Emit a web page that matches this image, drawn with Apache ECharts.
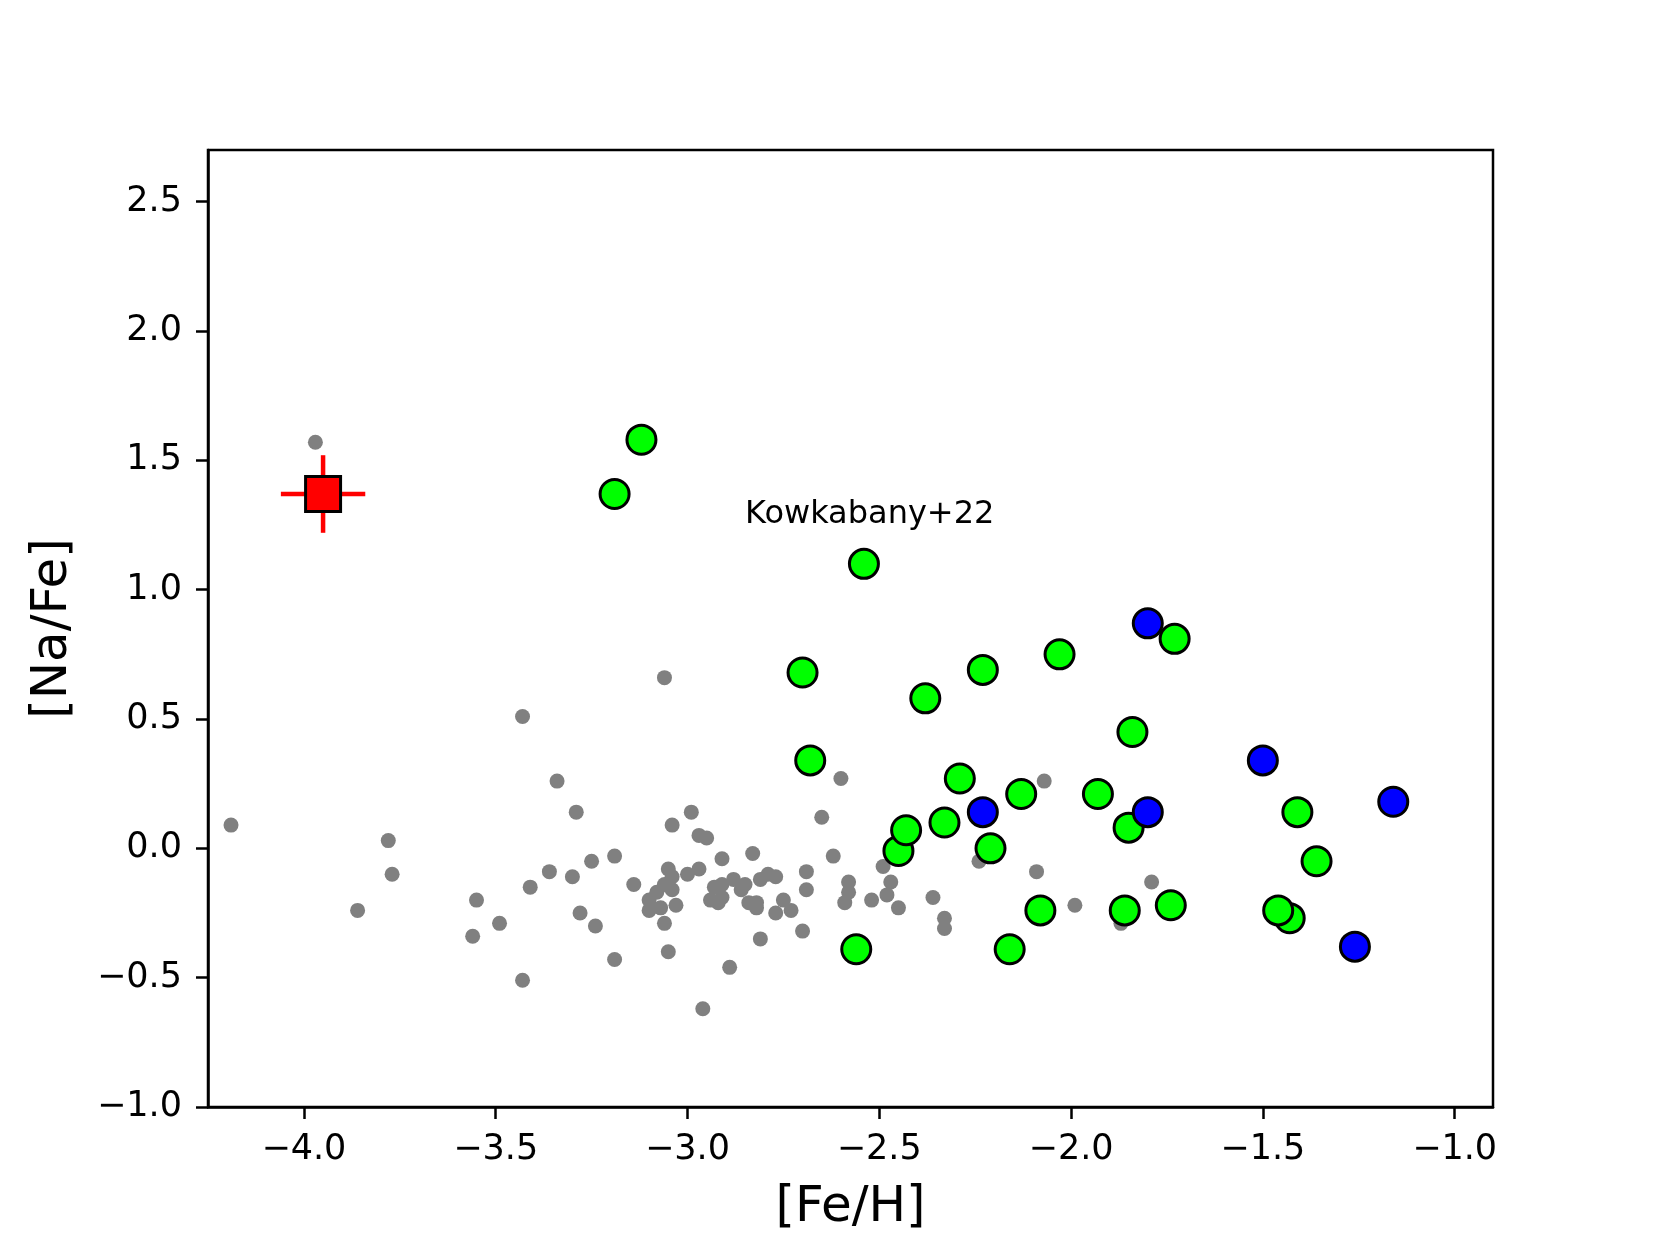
<!DOCTYPE html>
<html>
<head>
<meta charset="utf-8">
<script src="https://cdn.jsdelivr.net/npm/echarts@6/dist/echarts.min.js"></script>
<style>
  * { margin: 0; padding: 0; }
  body { background: #fff; }
</style>
</head>
<body>
<div id="main" style="width: 1660px; height: 1245px;"></div>
<script>
  // literature sample (grey dots)
  var litFeH = [-4.19, -3.97, -3.86, -3.78, -3.77, -3.56, -3.55, -3.49, -3.43, -3.43,
    -3.41, -3.36, -3.34, -3.30, -3.29, -3.28, -3.25, -3.24, -3.19, -3.19,
    -3.14, -3.10, -3.10, -3.08, -3.07, -3.06, -3.06, -3.06, -3.05, -3.05,
    -3.04, -3.04, -3.04, -3.03, -3.00, -2.99, -2.97, -2.97, -2.96, -2.95,
    -2.94, -2.93, -2.92, -2.91, -2.91, -2.91, -2.89, -2.88, -2.86, -2.85,
    -2.84, -2.83, -2.82, -2.82, -2.81, -2.81, -2.79, -2.77, -2.77, -2.75,
    -2.73, -2.70, -2.69, -2.69, -2.65, -2.62, -2.60, -2.59, -2.58, -2.58,
    -2.52, -2.49, -2.48, -2.47, -2.45, -2.36, -2.33, -2.33, -2.24, -2.09,
    -2.07, -1.99, -1.87, -1.79]
  var litNaFe = [0.09, 1.57, -0.24, 0.03, -0.10, -0.34, -0.20, -0.29, 0.51, -0.51,
    -0.15, -0.09, 0.26, -0.11, 0.14, -0.25, -0.05, -0.30, -0.03, -0.43,
    -0.14, -0.20, -0.24, -0.17, -0.23, 0.66, -0.14, -0.29, -0.08, -0.40,
    0.09, -0.11, -0.16, -0.22, -0.10, 0.14, 0.05, -0.08, -0.62, 0.04,
    -0.20, -0.15, -0.21, -0.04, -0.14, -0.19, -0.46, -0.12, -0.16, -0.14,
    -0.21, -0.02, -0.21, -0.23, -0.12, -0.35, -0.10, -0.11, -0.25, -0.20,
    -0.24, -0.32, -0.09, -0.16, 0.12, -0.03, 0.27, -0.21, -0.13, -0.17,
    -0.20, -0.07, -0.18, -0.13, -0.23, -0.19, -0.27, -0.31, -0.05, -0.09,
    0.26, -0.22, -0.29, -0.13]

  // Kowkabany+22 (green)
  var kowFeH = [-3.19, -3.12, -2.54, -2.70, -2.68, -2.56, -2.45, -2.43, -2.38, -2.33,
    -2.29, -2.23, -2.21, -2.16, -2.13, -2.08, -2.03, -1.93, -1.86, -1.85,
    -1.84, -1.74, -1.73, -1.43, -1.46, -1.41, -1.36]
  var kowNaFe = [1.37, 1.58, 1.10, 0.68, 0.34, -0.39, -0.01, 0.07, 0.58, 0.10,
    0.27, 0.69, 0.00, -0.39, 0.21, -0.24, 0.75, 0.21, -0.24, 0.08,
    0.45, -0.22, 0.81, -0.27, -0.24, 0.14, -0.05]

  // blue points
  var blueFeH = [-2.23, -1.80, -1.80, -1.50, -1.16, -1.26]
  var blueNaFe = [0.14, 0.87, 0.14, 0.34, 0.18, -0.38]

  // our star (red square with error bars)
  var starFeH = [-3.95]
  var starNaFe = [1.37]
  var starErrX = [0.11]
  var starErrY = [0.15]

  var xTicks = [-4.0, -3.5, -3.0, -2.5, -2.0, -1.5, -1.0]
  var yTicks = [-1.0, -0.5, 0.0, 0.5, 1.0, 1.5, 2.0, 2.5]
  var noteText = 'Kowkabany+22'
  var notePos = [-2.85, 1.29]

  function pairs(xs, ys) {
    return xs.map(function (x, i) { return [x, ys[i]] })
  }
  function fmt(v) {
    return v.toFixed(1).replace('-', '\u2212')
  }

  var font = 'DejaVu Sans'
  var chart = echarts.init(document.getElementById('main'))
  chart.setOption({
    animation: false,
    backgroundColor: '#fff',
    textStyle: { fontFamily: font },
    grid: {
      left: 208, right: 167, top: 150, bottom: 138,
      show: true, borderColor: '#000', borderWidth: 2.5, backgroundColor: 'transparent'
    },
    xAxis: {
      type: 'value', min: -4.25, max: -0.9,
      name: '[Fe/H]', nameLocation: 'middle', nameGap: 76,
      nameTextStyle: { fontSize: 50, color: '#000', fontFamily: font },
      splitLine: { show: false },
      axisLine: { show: true, onZero: false, lineStyle: { color: '#000', width: 2.5 } },
      axisTick: { show: true, customValues: xTicks, length: 12, lineStyle: { color: '#000', width: 2.5 } },
      axisLabel: { customValues: xTicks, formatter: fmt, fontSize: 35, color: '#000', margin: 25, fontFamily: font }
    },
    yAxis: {
      type: 'value', min: -1.0, max: 2.7,
      name: '[Na/Fe]', nameLocation: 'middle', nameGap: 130,
      nameTextStyle: { fontSize: 50, color: '#000', fontFamily: font },
      splitLine: { show: false },
      axisLine: { show: true, onZero: false, lineStyle: { color: '#000', width: 2.5 } },
      axisTick: { show: true, customValues: yTicks, length: 12, lineStyle: { color: '#000', width: 2.5 } },
      axisLabel: { customValues: yTicks, formatter: fmt, fontSize: 35, color: '#000', margin: 26, fontFamily: font }
    },
    series: [
      {
        type: 'scatter', z: 2,
        symbol: 'circle', symbolSize: 15,
        itemStyle: { color: '#808080', opacity: 1 },
        data: pairs(litFeH, litNaFe)
      },
      {
        type: 'custom', z: 3,
        data: starFeH.map(function (x, i) { return [x, starNaFe[i], starErrX[i], starErrY[i]] }),
        renderItem: function (params, api) {
          var x = api.value(0), y = api.value(1), ex = api.value(2), ey = api.value(3)
          var l = api.coord([x - ex, y]), r = api.coord([x + ex, y])
          var t = api.coord([x, y + ey]), b = api.coord([x, y - ey])
          var st = { stroke: '#ff0000', lineWidth: 4.5 }
          return {
            type: 'group',
            children: [
              { type: 'line', shape: { x1: l[0], y1: l[1], x2: r[0], y2: r[1] }, style: st },
              { type: 'line', shape: { x1: t[0], y1: t[1], x2: b[0], y2: b[1] }, style: st }
            ]
          }
        }
      },
      {
        type: 'scatter', z: 4,
        symbol: 'rect', symbolSize: 35,
        itemStyle: { color: '#ff0000', borderColor: '#000', borderWidth: 3, opacity: 1 },
        data: pairs(starFeH, starNaFe)
      },
      {
        type: 'scatter', z: 5,
        symbol: 'circle', symbolSize: 29,
        itemStyle: { color: '#00ff00', borderColor: '#000', borderWidth: 3, opacity: 1 },
        data: pairs(kowFeH, kowNaFe)
      },
      {
        type: 'scatter', z: 6,
        symbol: 'circle', symbolSize: 29,
        itemStyle: { color: '#0000ff', borderColor: '#000', borderWidth: 3, opacity: 1 },
        data: pairs(blueFeH, blueNaFe)
      },
      {
        type: 'scatter', z: 7,
        symbolSize: 0,
        silent: true,
        itemStyle: { opacity: 1 },
        label: {
          show: true, position: 'right', distance: 0, opacity: 1,
          formatter: noteText, fontSize: 32, color: '#000', fontFamily: font
        },
        data: [notePos]
      }
    ]
  })
</script>
</body>
</html>
